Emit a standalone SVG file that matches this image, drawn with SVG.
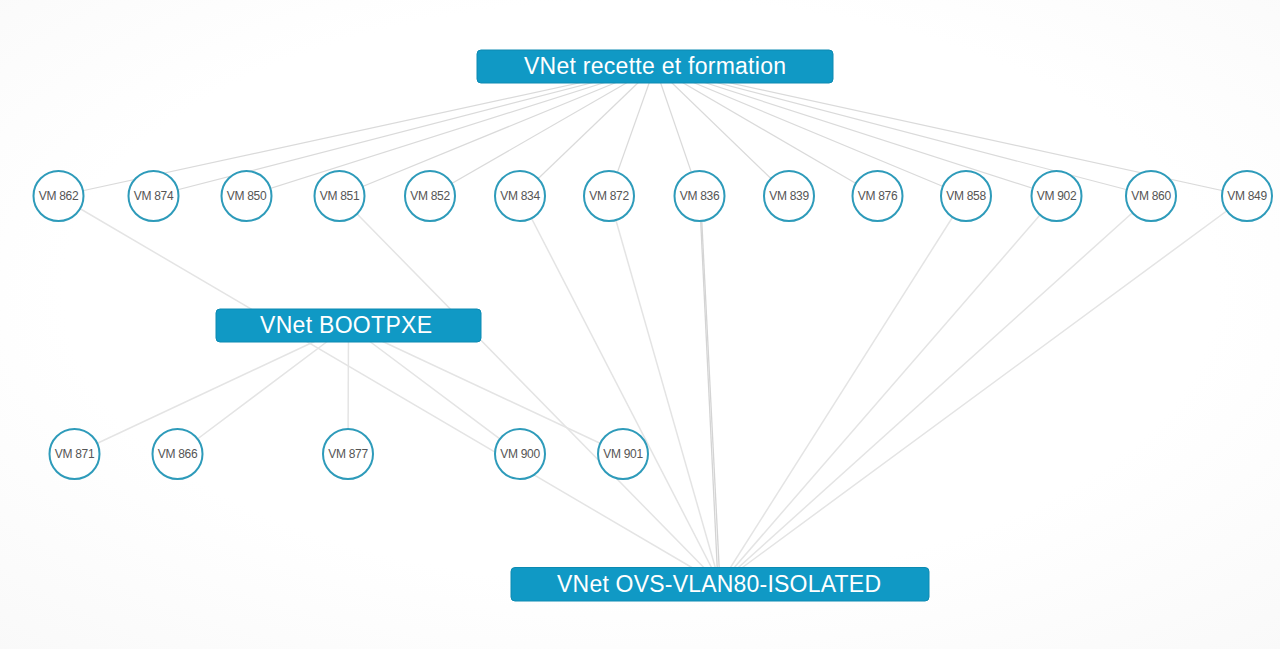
<svg xmlns="http://www.w3.org/2000/svg" width="1280" height="649" viewBox="0 0 1280 649">
<defs>
<radialGradient id="bg" cx="0.5" cy="0.45" r="0.75">
<stop offset="0.6" stop-color="#ffffff"/>
<stop offset="1" stop-color="#f9f9f9"/>
</radialGradient>
</defs>
<style>
.net rect{fill:#1099c5;stroke:#0c8ab2;stroke-width:1}
.net text{font-family:"Liberation Sans",Arial,sans-serif;font-size:23px;fill:#ffffff;text-anchor:middle}
.vm circle{fill:#ffffff;stroke:#2e9bba;stroke-width:2}
.vm text{font-family:"Liberation Sans",Arial,sans-serif;font-size:12px;fill:#555555;text-anchor:middle;letter-spacing:-0.3px}
#edges line{stroke:#e4e4e4;stroke-width:1.5;fill:none}
#edges .t{stroke:#dadada;stroke-width:1.2}
#edges .d{stroke:#d4d4d4;stroke-width:1.3}
</style>
<rect x="0" y="0" width="1280" height="649" fill="url(#bg)"/>
<g id="edges">
<line class="t" x1="655" y1="66.5" x2="58.5" y2="196"/>
<line class="t" x1="655" y1="66.5" x2="153.5" y2="196"/>
<line class="t" x1="655" y1="66.5" x2="246.5" y2="196"/>
<line class="t" x1="655" y1="66.5" x2="339.5" y2="196"/>
<line class="t" x1="655" y1="66.5" x2="430" y2="196"/>
<line class="t" x1="655" y1="66.5" x2="520" y2="196"/>
<line class="t" x1="655" y1="66.5" x2="609" y2="196"/>
<line class="t" x1="655" y1="66.5" x2="699.5" y2="196"/>
<line class="t" x1="655" y1="66.5" x2="789" y2="196"/>
<line class="t" x1="655" y1="66.5" x2="877.5" y2="196"/>
<line class="t" x1="655" y1="66.5" x2="966" y2="196"/>
<line class="t" x1="655" y1="66.5" x2="1056.5" y2="196"/>
<line class="t" x1="655" y1="66.5" x2="1151" y2="196"/>
<line class="t" x1="655" y1="66.5" x2="1247" y2="196"/>
<line x1="348.5" y1="325.5" x2="74.5" y2="454"/>
<line x1="348.5" y1="325.5" x2="177.5" y2="454"/>
<line x1="348.5" y1="325.5" x2="348" y2="454"/>
<line x1="348.5" y1="325.5" x2="520" y2="454"/>
<line x1="348.5" y1="325.5" x2="623" y2="454"/>
<line x1="58.5" y1="196" x2="720" y2="584"/>
<line x1="339.5" y1="196" x2="720" y2="584"/>
<line x1="520" y1="196" x2="720" y2="584"/>
<line x1="609" y1="196" x2="720" y2="584"/>
<line class="d" x1="699.5" y1="196" x2="718" y2="584"/>
<line class="d" x1="700.5" y1="196" x2="720" y2="584"/>
<line x1="966" y1="196" x2="720" y2="584"/>
<line x1="1056.5" y1="196" x2="720" y2="584"/>
<line x1="1151" y1="196" x2="720" y2="584"/>
<line x1="1247" y1="196" x2="720" y2="584"/>
</g>
<g id="vnet-recette" class="net"><rect x="477" y="50" width="356" height="33" rx="4"/><text x="655" y="74" textLength="262" lengthAdjust="spacing">VNet recette et formation</text></g>
<g id="vnet-bootpxe" class="net"><rect x="216" y="309" width="265" height="33" rx="4"/><text x="346" y="333" textLength="172" lengthAdjust="spacing">VNet BOOTPXE</text></g>
<g id="vnet-ovs" class="net"><rect x="511" y="567.5" width="418" height="33.5" rx="4"/><text x="719" y="592" textLength="324" lengthAdjust="spacing">VNet OVS-VLAN80-ISOLATED</text></g>
<g id="vm862" class="vm"><circle cx="58.5" cy="196" r="25"/><text x="58.5" y="200">VM 862</text></g>
<g id="vm874" class="vm"><circle cx="153.5" cy="196" r="25"/><text x="153.5" y="200">VM 874</text></g>
<g id="vm850" class="vm"><circle cx="246.5" cy="196" r="25"/><text x="246.5" y="200">VM 850</text></g>
<g id="vm851" class="vm"><circle cx="339.5" cy="196" r="25"/><text x="339.5" y="200">VM 851</text></g>
<g id="vm852" class="vm"><circle cx="430" cy="196" r="25"/><text x="430" y="200">VM 852</text></g>
<g id="vm834" class="vm"><circle cx="520" cy="196" r="25"/><text x="520" y="200">VM 834</text></g>
<g id="vm872" class="vm"><circle cx="609" cy="196" r="25"/><text x="609" y="200">VM 872</text></g>
<g id="vm836" class="vm"><circle cx="699.5" cy="196" r="25"/><text x="699.5" y="200">VM 836</text></g>
<g id="vm839" class="vm"><circle cx="789" cy="196" r="25"/><text x="789" y="200">VM 839</text></g>
<g id="vm876" class="vm"><circle cx="877.5" cy="196" r="25"/><text x="877.5" y="200">VM 876</text></g>
<g id="vm858" class="vm"><circle cx="966" cy="196" r="25"/><text x="966" y="200">VM 858</text></g>
<g id="vm902" class="vm"><circle cx="1056.5" cy="196" r="25"/><text x="1056.5" y="200">VM 902</text></g>
<g id="vm860" class="vm"><circle cx="1151" cy="196" r="25"/><text x="1151" y="200">VM 860</text></g>
<g id="vm849" class="vm"><circle cx="1247" cy="196" r="25"/><text x="1247" y="200">VM 849</text></g>
<g id="vm871" class="vm"><circle cx="74.5" cy="454" r="25"/><text x="74.5" y="458">VM 871</text></g>
<g id="vm866" class="vm"><circle cx="177.5" cy="454" r="25"/><text x="177.5" y="458">VM 866</text></g>
<g id="vm877" class="vm"><circle cx="348" cy="454" r="25"/><text x="348" y="458">VM 877</text></g>
<g id="vm900" class="vm"><circle cx="520" cy="454" r="25"/><text x="520" y="458">VM 900</text></g>
<g id="vm901" class="vm"><circle cx="623" cy="454" r="25"/><text x="623" y="458">VM 901</text></g>
</svg>
